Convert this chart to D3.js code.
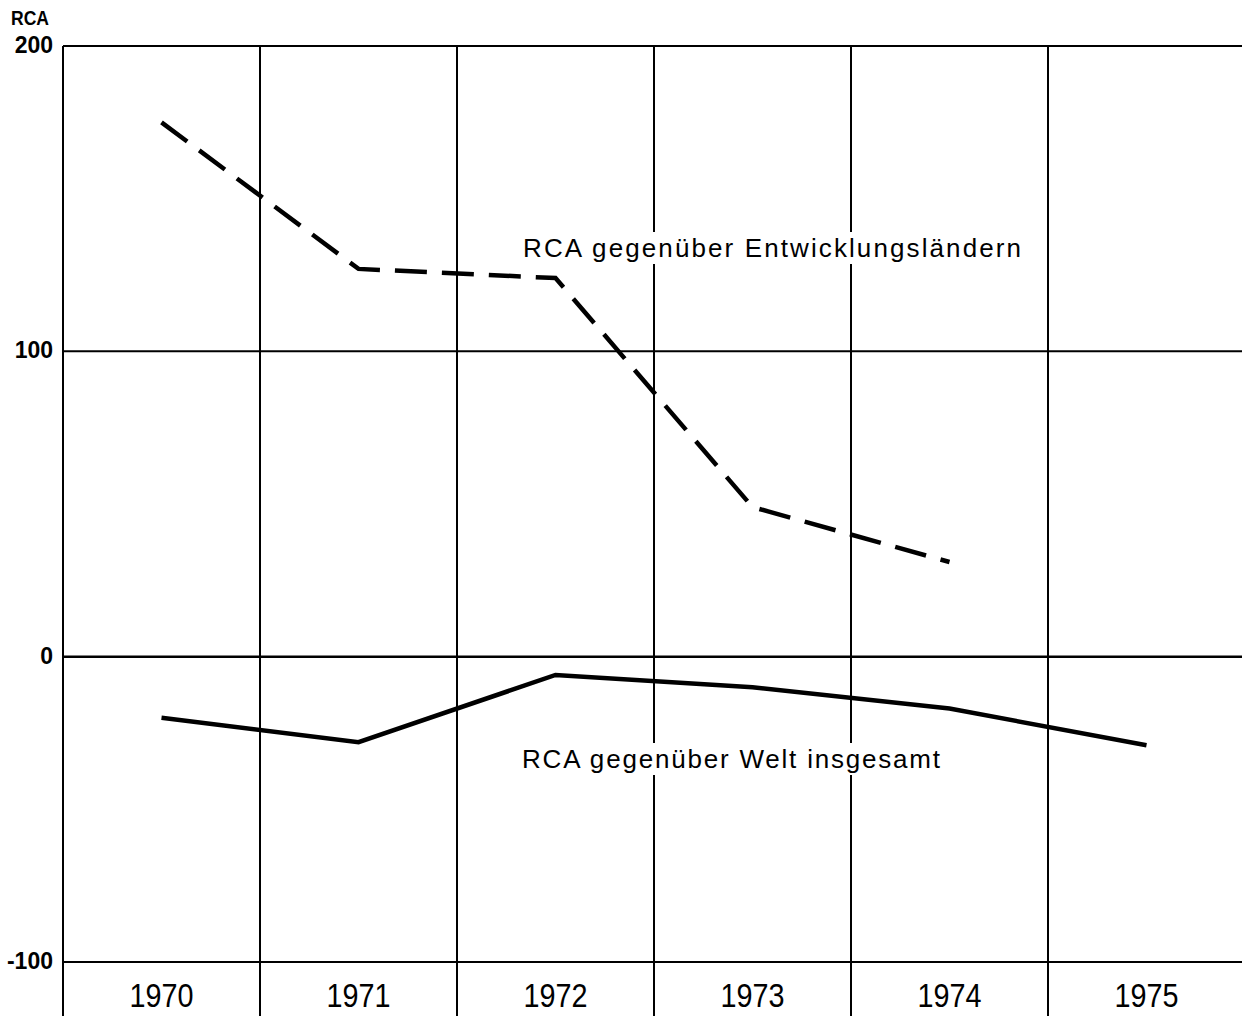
<!DOCTYPE html>
<html><head><meta charset="utf-8">
<script src="https://cdn.jsdelivr.net/npm/d3@7"></script>
<style>body{margin:0;background:#fff}svg{display:block}</style>
</head><body>
<svg id="c" width="1242" height="1016"></svg>
<script>
const years = [1970, 1971, 1972, 1973, 1974, 1975];
const rcaEntwicklung = [175, 127, 124, 49, 31];   // 1970–1974
const rcaWelt = [-20, -28, -6, -10, -17, -29];     // 1970–1975
const yTicks = [200, 100, 0, -100];
const labelEntw = "RCA gegenüber Entwicklungsländern";
const labelWelt = "RCA gegenüber Welt insgesamt";

const svg = d3.select("#c");
const x = d3.scaleLinear().domain([1969.5, 1975.5]).range([63, 1245]);
const y = d3.scaleLinear().domain([-100, 200]).range([962, 46]);
const bottom = 1016;

svg.append("g").selectAll("line").data(yTicks).join("line")
  .attr("x1", x(1969.5)).attr("x2", 1242)
  .attr("y1", d => y(d)).attr("y2", d => y(d))
  .attr("stroke", "#000").attr("stroke-width", d => d === 0 ? 2.5 : 2);
const vx = d3.range(1969.5, 1975.5, 1);
svg.append("g").selectAll("line").data(vx).join("line")
  .attr("x1", d => x(d)).attr("x2", d => x(d))
  .attr("y1", y(200)).attr("y2", bottom)
  .attr("stroke", "#000").attr("stroke-width", 2);

svg.append("g").selectAll("text").data(yTicks).join("text")
  .attr("x", 53).attr("y", d => y(d)).attr("dy", "0.3em")
  .attr("text-anchor", "end")
  .attr("font-family", "Liberation Sans, Arial, sans-serif")
  .attr("font-weight", "bold").attr("font-size", 23)
  .text(d => d === -100 ? "-100" : d);
svg.append("text").attr("x", 11).attr("y", 25)
  .attr("font-family", "Liberation Sans, Arial, sans-serif")
  .attr("font-weight", "bold").attr("font-size", 20)
  .attr("textLength", 38).attr("lengthAdjust", "spacingAndGlyphs").text("RCA");

svg.append("g").selectAll("text").data(years).join("text")
  .attr("x", d => x(d) - 32).attr("y", 1007)
  .attr("textLength", 64).attr("lengthAdjust", "spacingAndGlyphs")
  .attr("font-family", "Liberation Sans, Arial, sans-serif")
  .attr("font-size", 33).text(d => d);

function label(txt, cx, by, w) {
  svg.append("rect").attr("x", cx - w/2 - 6).attr("y", by - 25).attr("width", w + 12).attr("height", 32).attr("fill", "#fff");
  svg.append("text").attr("x", cx - w/2).attr("y", by)
    .attr("textLength", w).attr("lengthAdjust", "spacing")
    .attr("font-family", "Liberation Sans, Arial, sans-serif")
    .attr("font-size", 26).text(txt);
}
label(labelEntw, 772, 257, 498);
label(labelWelt, 731, 768, 418);

const line = d3.line().x(d => x(d[0])).y(d => y(d[1]));
svg.append("path")
  .datum(rcaEntwicklung.map((v, i) => [years[i], v]))
  .attr("d", line).attr("fill", "none").attr("stroke", "#000")
  .attr("stroke-width", 4.5).attr("stroke-dasharray", "32 15");
svg.append("path")
  .datum(rcaWelt.map((v, i) => [years[i], v]))
  .attr("d", line).attr("fill", "none").attr("stroke", "#000")
  .attr("stroke-width", 4.5);
</script>
</body></html>
